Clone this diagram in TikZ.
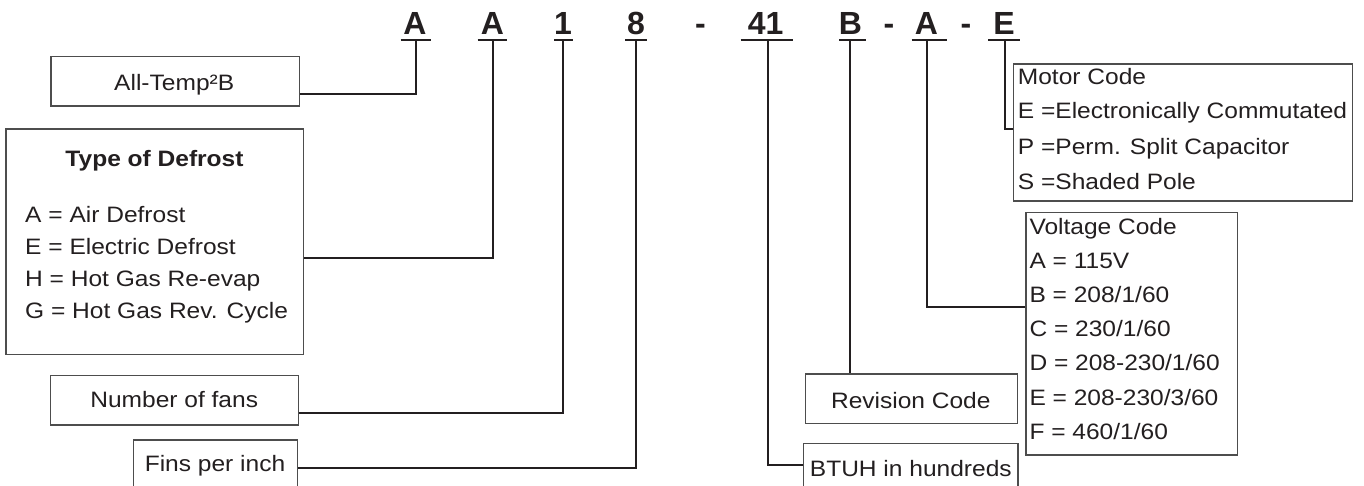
\documentclass[tikz,border=0pt]{standalone}
\usepackage{fontspec}
\setmainfont{Liberation Sans}
\newfontfamily\lblfont[FakeStretch=1.1]{Liberation Sans}
\definecolor{ink}{HTML}{231F20}
\definecolor{boxgray}{HTML}{4D4D4D}
\tikzset{
  box/.style={draw=boxgray, line width=1.2pt, rectangle, inner sep=0pt},
  lbl/.style={inner sep=0pt, text=ink, font=\lblfont\fontsize{22.3}{26}\selectfont},
  lblb/.style={inner sep=0pt, text=ink, font=\lblfont\bfseries\fontsize{22.3}{26}\selectfont},
  codeletter/.style={inner sep=0pt, text=ink, font=\bfseries\fontsize{32}{36}\selectfont, anchor=base},
  conn/.style={draw=ink, line width=2pt},
  uline/.style={draw=ink, line width=2pt},
}
\begin{document}
\begin{tikzpicture}[x=1pt, y=-1pt]
\useasboundingbox[fill=white] (0,0) rectangle (1364,485);

% title code letters
\node[codeletter] (tA1) at (415,34) {A};
\node[codeletter] (tA2) at (492.5,34) {A};
\node[codeletter] (t1) at (563,34) {1};
\node[codeletter] (t8) at (636,34) {8};
\node[codeletter] (td1) at (700.5,34) {-};
\node[codeletter] (t41) at (765.7,34) {41};
\node[codeletter] (tB) at (850.5,34) {B};
\node[codeletter] (td2) at (889,34) {-};
\node[codeletter] (tA3) at (926.5,34) {A};
\node[codeletter] (td3) at (966,34) {-};
\node[codeletter] (tE) at (1004,34) {E};

% underlines
\draw[uline] (400.7,39.5) -- (430.7,39.5);
\draw[uline] (477.7,39.5) -- (507,39.5);
\draw[uline] (554,39.5) -- (573,39.5);
\draw[uline] (625,39.5) -- (646.7,39.5);
\draw[uline] (740.7,39.5) -- (792.7,39.5);
\draw[uline] (839,39.5) -- (866,39.5);
\draw[uline] (911.7,39.5) -- (946.7,39.5);
\draw[uline] (988,39.5) -- (1020,39.5);

% stem tops
\coordinate (sA1) at (416,39.5);
\coordinate (sA2) at (492.7,39.5);
\coordinate (s1) at (563.3,39.5);
\coordinate (s8) at (636,39.5);
\coordinate (s41) at (768,39.5);
\coordinate (sB) at (850,39.5);
\coordinate (sA3) at (927.3,39.5);
\coordinate (sE) at (1005,39.5);

% boxes
\node[box, minimum width=248.3pt, minimum height=49.3pt] (alltemp) at (175.15,81.35) {};
\node[box, minimum width=297.3pt, minimum height=225.3pt] (defrost) at (154.65,241.65) {};
\node[box, minimum width=247.6pt, minimum height=49.3pt] (fans) at (174.5,400.35) {};
\node[box, minimum width=164.4pt, minimum height=60pt] (fins) at (215.5,470) {};
\node[box, minimum width=211.6pt, minimum height=49.3pt] (rev) at (911.5,398.65) {};
\node[box, minimum width=214.7pt, minimum height=59.7pt] (btuh) at (910.65,473.15) {};
\node[box, minimum width=211.7pt, minimum height=242.7pt] (volt) at (1131.85,333.65) {};
\node[box, minimum width=339.2pt, minimum height=137pt] (motor) at (1183.1,132.5) {};

% box texts
\node[lbl, anchor=base] (alltempT) at (174.2,90) {All-Temp²B};
\node[lblb, anchor=base] (defrostT) at (154.5,166) {Type of Defrost};
\node[lbl, anchor=base west] (d1) at (25,222.7) {A = Air Defrost};
\node[lbl, anchor=base west] (d2) at (25,254.3) {E = Electric Defrost};
\node[lbl, anchor=base west] (d3) at (25,286.7) {H = Hot Gas Re-evap};
\node[lbl, anchor=base west] (d4) at (25,318.3) {G = Hot Gas Rev. Cycle};
\node[lbl, anchor=base] (fansT) at (174.2,407.3) {Number of fans};
\node[lbl, anchor=base] (finsT) at (215,471.7) {Fins per inch};
\node[lbl, anchor=base] (revT) at (910.8,408.3) {Revision Code};
\node[lbl, anchor=base] (btuhT) at (910.8,476.7) {BTUH in hundreds};
\node[lbl, anchor=base west] (m0) at (1017.7,84.5) {Motor Code};
\node[lbl, anchor=base west] (m1) at (1017.7,118.8) {E =Electronically Commutated};
\node[lbl, anchor=base west] (m2) at (1017.7,154) {P =Perm. Split Capacitor};
\node[lbl, anchor=base west] (m3) at (1017.7,189.3) {S =Shaded Pole};
\node[lbl, anchor=base west] (v0) at (1029.3,234) {Voltage Code};
\node[lbl, anchor=base west] (v1) at (1029.3,268.3) {A = 115V};
\node[lbl, anchor=base west] (v2) at (1029.3,302.3) {B = 208/1/60};
\node[lbl, anchor=base west] (v3) at (1029.3,336.7) {C = 230/1/60};
\node[lbl, anchor=base west] (v4) at (1029.3,370.7) {D = 208-230/1/60};
\node[lbl, anchor=base west] (v5) at (1029.3,405) {E = 208-230/3/60};
\node[lbl, anchor=base west] (v6) at (1029.3,439.3) {F = 460/1/60};

% connectors
\draw[conn] (sA1) |- ([yshift=12.7pt]alltemp.south east);
\draw[conn] (sA2) |- ([yshift=-16.35pt]defrost.east);
\draw[conn] (s1) |- ([yshift=12.3pt]fans.south east);
\draw[conn] (s8) |- ([yshift=-28.3pt]fins.north east);
\draw[conn] (s41) |- ([yshift=-22.7pt]btuh.north west);
\draw[conn] (sB) -- (sB |- rev.north);
\draw[conn] (sA3) |- ([yshift=-95pt]volt.north west);
\draw[conn] (sE) |- ([yshift=-65.5pt]motor.north west);
\end{tikzpicture}
\end{document}
